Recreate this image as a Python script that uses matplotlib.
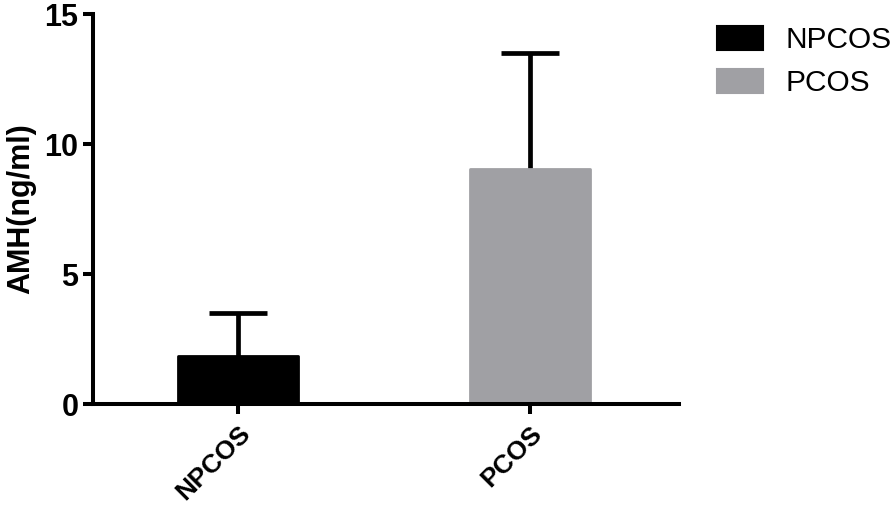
import matplotlib
matplotlib.use("Agg")
import matplotlib.pyplot as plt
from matplotlib.patches import Patch
import numpy as np

categories = ["NPCOS", "PCOS"]
means = [1.85, 9.05]
errors = [1.65, 4.45]
colors = ["#000000", "#a0a0a4"]
yticks = [0, 5, 10, 15]

plt.rcParams['font.family'] = ['Liberation Sans', 'DejaVu Sans']

fig = plt.figure(figsize=(8.94, 5.12), dpi=100)
ax = fig.add_axes([93/894, 1-404/512, (679-93)/894, (404-14)/512])

x = list(range(len(categories)))
eb = ax.errorbar(x, means, yerr=[[0]*len(errors), errors], fmt='none', ecolor='black',
                 elinewidth=3.4, capsize=21, capthick=3.4, zorder=1)
for cl in eb[1]:
    if np.allclose(cl.get_ydata(), means):
        cl.set_visible(False)
bars = ax.bar(x, means, width=0.41, color=colors, edgecolor=colors, linewidth=2,
              joinstyle='round', zorder=2)

ax.set_xlim(-0.497, 1.51)
ax.set_ylim(0, 15)
ax.set_yticks(yticks)
ax.set_yticklabels([str(t) for t in yticks], fontsize=22, fontweight='bold')
ax.set_xticks(x)
ax.set_xticklabels(categories, rotation=45, ha='right', va='top', rotation_mode='anchor',
                   fontsize=19, fontweight='bold')
ax.set_ylabel("AMH(ng/ml)", fontsize=22, fontweight='bold', labelpad=6)

for s in ['top', 'right']:
    ax.spines[s].set_visible(False)
for s in ['left', 'bottom']:
    ax.spines[s].set_linewidth(2.9)
ax.tick_params(axis='both', width=2.9, length=7.5, direction='out')
ax.tick_params(axis='y', pad=3)
ax.tick_params(axis='x', pad=5)

handles = [Patch(facecolor=c, edgecolor=c, linewidth=1.5, joinstyle='round') for c in colors]
fig.legend(handles, categories, loc='upper left', bbox_to_anchor=(705/894, 1-14/512),
           frameon=False, fontsize=21.5, handlelength=1.55, handleheight=0.85,
           handletextpad=0.75, labelspacing=0.5, borderaxespad=0)

fig.savefig("out.png", dpi=100)
